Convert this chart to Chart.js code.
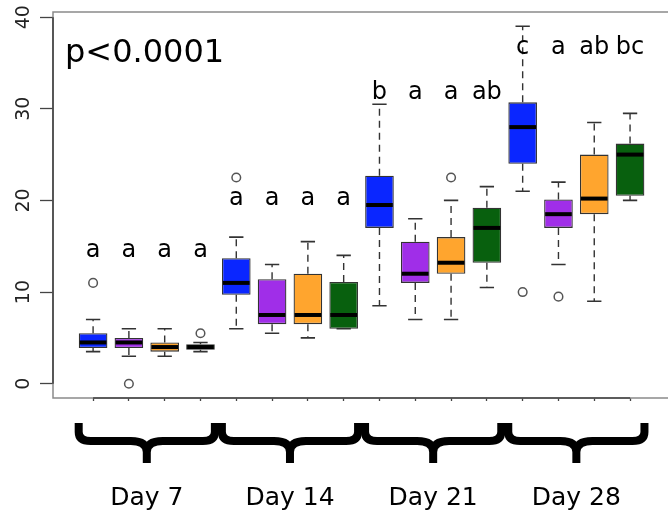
<!DOCTYPE html>
<html>
<head>
<meta charset="utf-8">
<script src="https://cdn.jsdelivr.net/npm/chart.js@4.4.1/dist/chart.umd.min.js"></script>
<style>
  html, body { margin: 0; padding: 0; background: #ffffff; }
  #wrap { width: 668px; height: 514px; }
  canvas { display: block; }
</style>
</head>
<body>
<div id="wrap"><canvas id="c" width="668" height="514"></canvas></div>
<script>
// ---------------- DATA ----------------
const days = ['Day 7', 'Day 14', 'Day 21', 'Day 28'];
const treatments = ['T1', 'T2', 'T3', 'T4'];
// one entry per box, in order Day 7 (T1..T4), Day 14 (T1..T4), ...
const whiskerLow  = [3.5, 3.0, 3.0, 3.5,   6.0, 5.5, 5.0, 6.0,   8.5, 7.0, 7.0, 10.5,   21.0, 13.0, 9.0, 20.0];
const q1          = [3.9, 3.9, 3.5, 3.7,   9.7, 6.5, 6.5, 6.0,   17.0, 11.0, 12.0, 13.2, 24.0, 17.0, 18.5, 20.5];
const median      = [4.5, 4.5, 4.0, 4.0,   11.0, 7.5, 7.5, 7.5,  19.5, 12.0, 13.2, 17.0, 28.0, 18.5, 20.2, 25.0];
const q3          = [5.5, 5.0, 4.5, 4.3,   13.7, 11.4, 12.0, 11.1, 22.7, 15.5, 16.0, 19.2, 30.7, 20.1, 25.0, 26.2];
const whiskerHigh = [7.0, 6.0, 6.0, 4.5,   16.0, 13.0, 15.5, 14.0, 30.5, 18.0, 20.0, 21.5, 39.0, 22.0, 28.5, 29.5];
const outliers    = [[11], [0], [], [5.5],  [22.5], [], [], [],   [], [], [22.5], [],    [10], [9.5], [], []];
const letters     = ['a', 'a', 'a', 'a',   'a', 'a', 'a', 'a',   'b', 'a', 'a', 'ab',   'c', 'a', 'ab', 'bc'];
const letterY     = [13.8, 19.5, 31.1, 36.0];   // per day (value level of the letter baseline)
const yTicks      = [0, 10, 20, 30, 40];
const pLabel      = 'p<0.0001';

// ---------------- STYLE ----------------
const treatmentColors = ['#0a26ff', '#a02ee8', '#ffa52e', '#08600e'];
const FONT = "'DejaVu Sans', 'Liberation Sans', sans-serif";

const nT = treatments.length;
const boxX = median.map((_, i) => i + 1);
const boxColors = median.map((_, i) => treatmentColors[i % nT]);
const boxData = median.map((_, i) => ({ x: boxX[i], y: [q1[i], q3[i]] }));
const outlierPoints = [];
outliers.forEach((arr, i) => arr.forEach(v => outlierPoints.push({ x: boxX[i], y: v })));
const dayCenters = days.map((_, g) => g * nT + (nT + 1) / 2);

const boxPlugin = {
  id: 'boxExtras',
  beforeDatasetsDraw(chart) {
    const ctx = chart.ctx, ca = chart.chartArea;
    const xs = chart.scales.x, ys = chart.scales.y;
    ctx.save();
    // frame
    ctx.strokeStyle = '#8a8a8a';
    ctx.lineWidth = 1.5;
    ctx.beginPath();
    ctx.moveTo(chart.width + 2, ca.top);
    ctx.lineTo(ca.left, ca.top);
    ctx.lineTo(ca.left, ca.bottom);
    ctx.lineTo(chart.width + 2, ca.bottom);
    ctx.stroke();
    // axis lines
    ctx.strokeStyle = '#444';
    ctx.lineWidth = 1.6;
    ctx.beginPath();
    ctx.moveTo(ca.left, ys.getPixelForValue(yTicks[0]));
    ctx.lineTo(ca.left, ys.getPixelForValue(yTicks[yTicks.length - 1]));
    ctx.moveTo(xs.getPixelForValue(boxX[0]), ca.bottom);
    ctx.lineTo(xs.getPixelForValue(boxX[boxX.length - 1]), ca.bottom);
    ctx.stroke();
    // whiskers
    const meta = chart.getDatasetMeta(0);
    for (let i = 0; i < boxX.length; i++) {
      const x = xs.getPixelForValue(boxX[i]);
      const bw = meta.data[i] ? meta.data[i].width : 28;
      ctx.strokeStyle = '#333';
      ctx.lineWidth = 1.4;
      ctx.setLineDash([7, 5]);
      ctx.beginPath();
      ctx.moveTo(x, ys.getPixelForValue(q3[i]));
      ctx.lineTo(x, ys.getPixelForValue(whiskerHigh[i]));
      ctx.moveTo(x, ys.getPixelForValue(q1[i]));
      ctx.lineTo(x, ys.getPixelForValue(whiskerLow[i]));
      ctx.stroke();
      ctx.setLineDash([]);
      ctx.lineWidth = 1.6;
      ctx.beginPath();
      const hw = bw / 4;
      ctx.moveTo(x - hw, ys.getPixelForValue(whiskerHigh[i]));
      ctx.lineTo(x + hw, ys.getPixelForValue(whiskerHigh[i]));
      ctx.moveTo(x - hw, ys.getPixelForValue(whiskerLow[i]));
      ctx.lineTo(x + hw, ys.getPixelForValue(whiskerLow[i]));
      ctx.stroke();
    }
    ctx.restore();
  },
  afterDatasetsDraw(chart) {
    const ctx = chart.ctx, ca = chart.chartArea;
    const xs = chart.scales.x, ys = chart.scales.y;
    const meta = chart.getDatasetMeta(0);
    ctx.save();
    // medians
    ctx.strokeStyle = '#000';
    ctx.lineWidth = 4;
    ctx.lineCap = 'butt';
    for (let i = 0; i < boxX.length; i++) {
      const x = xs.getPixelForValue(boxX[i]);
      const bw = meta.data[i] ? meta.data[i].width : 28;
      const y = ys.getPixelForValue(median[i]);
      ctx.beginPath();
      ctx.moveTo(x - bw / 2 + 1, y);
      ctx.lineTo(x + bw / 2 - 1, y);
      ctx.stroke();
    }
    // letters
    ctx.fillStyle = '#000';
    ctx.font = '24px ' + FONT;
    ctx.textAlign = 'center';
    ctx.textBaseline = 'alphabetic';
    for (let i = 0; i < boxX.length; i++) {
      const g = Math.floor(i / nT);
      ctx.fillText(letters[i], xs.getPixelForValue(boxX[i]), ys.getPixelForValue(letterY[g]));
    }
    // p-value
    ctx.font = '32px ' + FONT;
    ctx.textAlign = 'left';
    ctx.fillText(pLabel, ca.left + 12, ca.top + 50);
    // braces
    ctx.strokeStyle = '#000';
    ctx.lineWidth = 8;
    ctx.lineJoin = 'round';
    const B = ca.bottom;
    const yTop = B + 25, yH = B + 43, yTip = B + 65;
    for (let g = 0; g < days.length; g++) {
      const L = xs.getPixelForValue(g * nT + 0.5);
      const R = xs.getPixelForValue(g * nT + nT + 0.5);
      const M = xs.getPixelForValue(dayCenters[g]);
      const a = L + 3.5, b = R - 3.5;
      ctx.beginPath();
      ctx.moveTo(a, yTop);
      ctx.lineTo(a, yH - 9);
      ctx.quadraticCurveTo(a, yH, a + 12, yH);
      ctx.lineTo(M - 16, yH);
      ctx.quadraticCurveTo(M, yH, M, yH + 11);
      ctx.lineTo(M, yTip);
      ctx.moveTo(M, yH + 11);
      ctx.quadraticCurveTo(M, yH, M + 16, yH);
      ctx.lineTo(b - 12, yH);
      ctx.quadraticCurveTo(b, yH, b, yH - 9);
      ctx.lineTo(b, yTop);
      ctx.stroke();
    }
    ctx.restore();
  }
};

new Chart(document.getElementById('c'), {
  type: 'bar',
  data: {
    datasets: [
      {
        type: 'bar',
        data: boxData,
        backgroundColor: boxColors,
        borderColor: '#333',
        borderWidth: 1.3,
        borderSkipped: false,
        barPercentage: 0.8,
        categoryPercentage: 1.0,
        xAxisID: 'x',
        yAxisID: 'y',
        order: 2
      },
      {
        type: 'scatter',
        data: outlierPoints,
        pointRadius: 4.3,
        pointBorderWidth: 1.5,
        pointBorderColor: '#555',
        pointBackgroundColor: 'rgba(0,0,0,0)',
        xAxisID: 'x',
        yAxisID: 'y',
        order: 1
      }
    ]
  },
  options: {
    responsive: false,
    animation: false,
    devicePixelRatio: 1,
    layout: { autoPadding: false, padding: { top: 12, right: 0, bottom: 0, left: 0 } },
    plugins: { legend: { display: false }, tooltip: { enabled: false } },
    scales: {
      x: {
        type: 'linear',
        position: 'bottom',
        weight: 1,
        min: -0.12,
        max: 17.06,
        offset: false,
        afterBuildTicks: s => { s.ticks = boxX.map(v => ({ value: v })); },
        afterFit: s => { s.height = 5; s.paddingLeft = 0; s.paddingRight = 0; },
        ticks: { display: false, autoSkip: false },
        grid: { display: true, offset: false, drawOnChartArea: false, drawTicks: true, tickLength: 3, tickColor: '#444', tickWidth: 1.3 },
        border: { display: false }
      },
      xDay: {
        type: 'linear',
        position: 'bottom',
        weight: 2,
        min: -0.12,
        max: 17.06,
        offset: false,
        afterBuildTicks: s => { s.ticks = dayCenters.map(v => ({ value: v })); },
        afterFit: s => { s.height = 111; s.paddingLeft = 0; s.paddingRight = 0; },
        ticks: {
          autoSkip: false,
          maxRotation: 0,
          minRotation: 0,
          padding: 80,
          color: '#000',
          font: { family: FONT, size: 25 },
          callback: (v, i) => days[i]
        },
        grid: { display: false, drawTicks: false },
        border: { display: false }
      },
      y: {
        type: 'linear',
        position: 'left',
        min: -1.56,
        max: 40.56,
        afterBuildTicks: s => { s.ticks = yTicks.map(v => ({ value: v })); },
        afterFit: s => { s.width = 53; s.paddingTop = 0; s.paddingBottom = 0; },
        ticks: {
          minRotation: 90,
          maxRotation: 90,
          crossAlign: 'center',
          padding: 4,
          color: '#222',
          font: { family: FONT, size: 19 },
          includeBounds: false
        },
        grid: { display: true, drawOnChartArea: false, drawTicks: true, tickLength: 13, tickColor: '#444', tickWidth: 1.3 },
        border: { display: false }
      }
    }
  },
  plugins: [boxPlugin]
});
</script>
</body>
</html>
